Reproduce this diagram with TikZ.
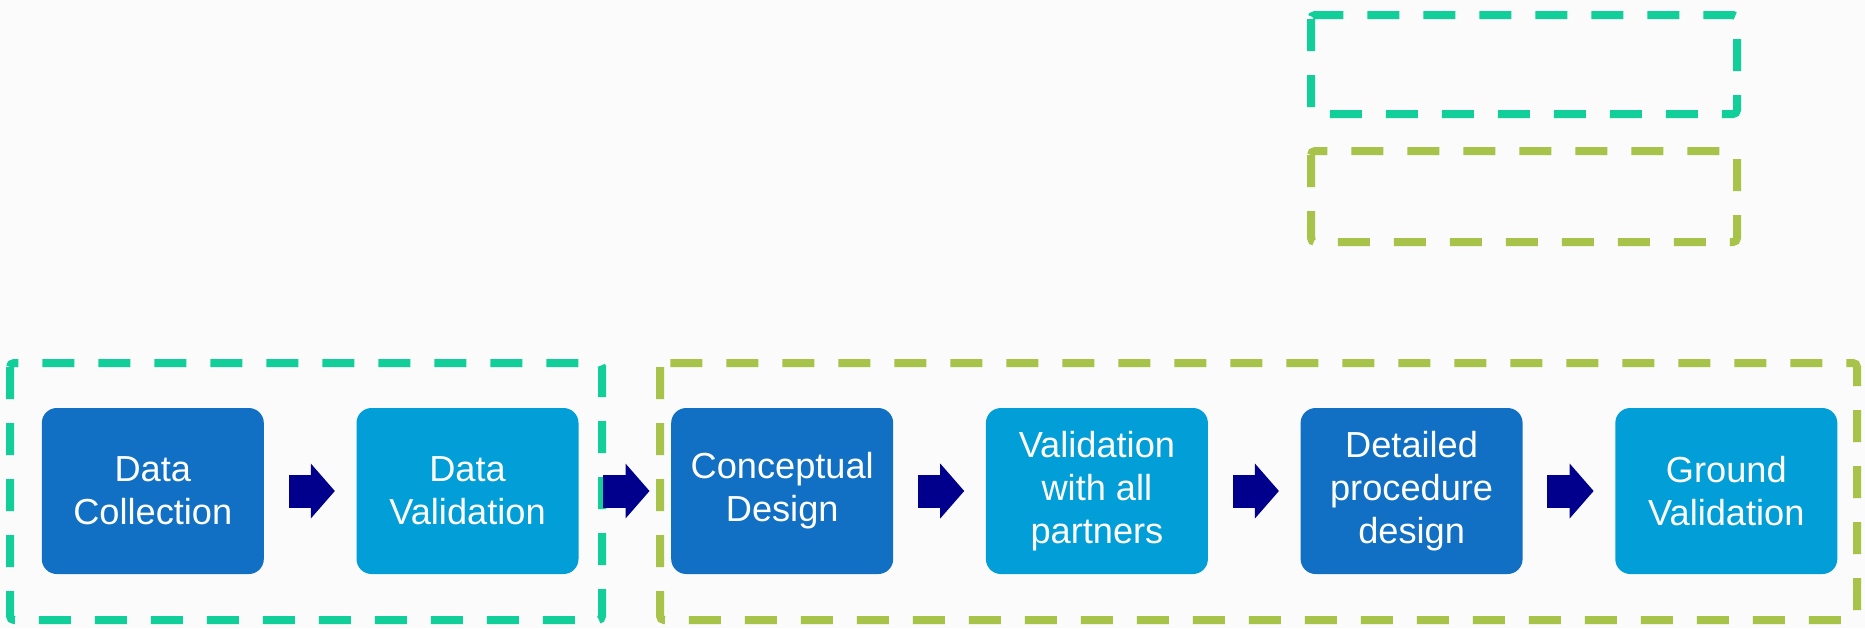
\documentclass[tikz,border=0pt]{standalone}
\usepackage{fontspec}
\setmainfont{Liberation Sans}
\usetikzlibrary{arrows.meta}
\definecolor{stagedark}{RGB}{17,112,196}
\definecolor{stagelight}{RGB}{2,158,215}
\definecolor{flownavy}{RGB}{0,0,140}
\definecolor{phasegreen}{RGB}{18,207,154}
\definecolor{phaseolive}{RGB}{168,195,74}
\definecolor{pagebg}{RGB}{251,251,251}
\tikzset{
  stage/.style={rectangle, rounded corners=0.15cm, minimum width=2.22cm,
    minimum height=1.66cm, inner sep=0pt, text=white, align=center,
    font=\fontsize{10.3}{12.2}\selectfont},
  darkstage/.style={stage, fill=stagedark},
  lightstage/.style={stage, fill=stagelight},
  flow/.style={draw=flownavy, line width=0.33cm,
    -{Triangle[length=0.24cm, width=0.55cm, line width=0pt]},
    shorten <=0.24cm, shorten >=0.21cm},
  phasebox/.style={line width=0.08cm, dash pattern=on 0.32cm off 0.24cm,
    rounded corners=0.04cm}
}
\begin{document}
\begin{tikzpicture}
    \fill[pagebg] (0,0) rectangle (18.65,6.28);
    \useasboundingbox (0,0) rectangle (18.65,6.28);
    % legend frames
    \draw[phasebox, phasegreen] (13.11,6.13) rectangle (17.37,5.14);
    \draw[phasebox, phaseolive] (13.11,4.77) rectangle (17.37,3.86);
    % phase frames
    \draw[phasebox, phasegreen] (0.10,2.65) rectangle (6.02,0.08);
    \draw[phasebox, phaseolive] (6.60,2.65) rectangle (18.57,0.08);
    % stages
    \node[darkstage] (collect) at (1.528,1.37) {Data\\Collection};
    \node[lightstage] (dataval) at (4.675,1.37) {Data\\Validation};
    \node[darkstage] (concept) at (7.822,1.37) {Conceptual\\Design};
    \node[lightstage] (partners) at (10.969,1.37) {Validation\\with all\\partners};
    \node[darkstage] (detail) at (14.116,1.37) {Detailed\\procedure\\design};
    \node[lightstage] (ground) at (17.263,1.37) {Ground\\Validation};
    \foreach \a/\b in {collect/dataval, dataval/concept, concept/partners, partners/detail, detail/ground}
    \draw[flow] (\a) -- (\b);
\end{tikzpicture}
\end{document}
